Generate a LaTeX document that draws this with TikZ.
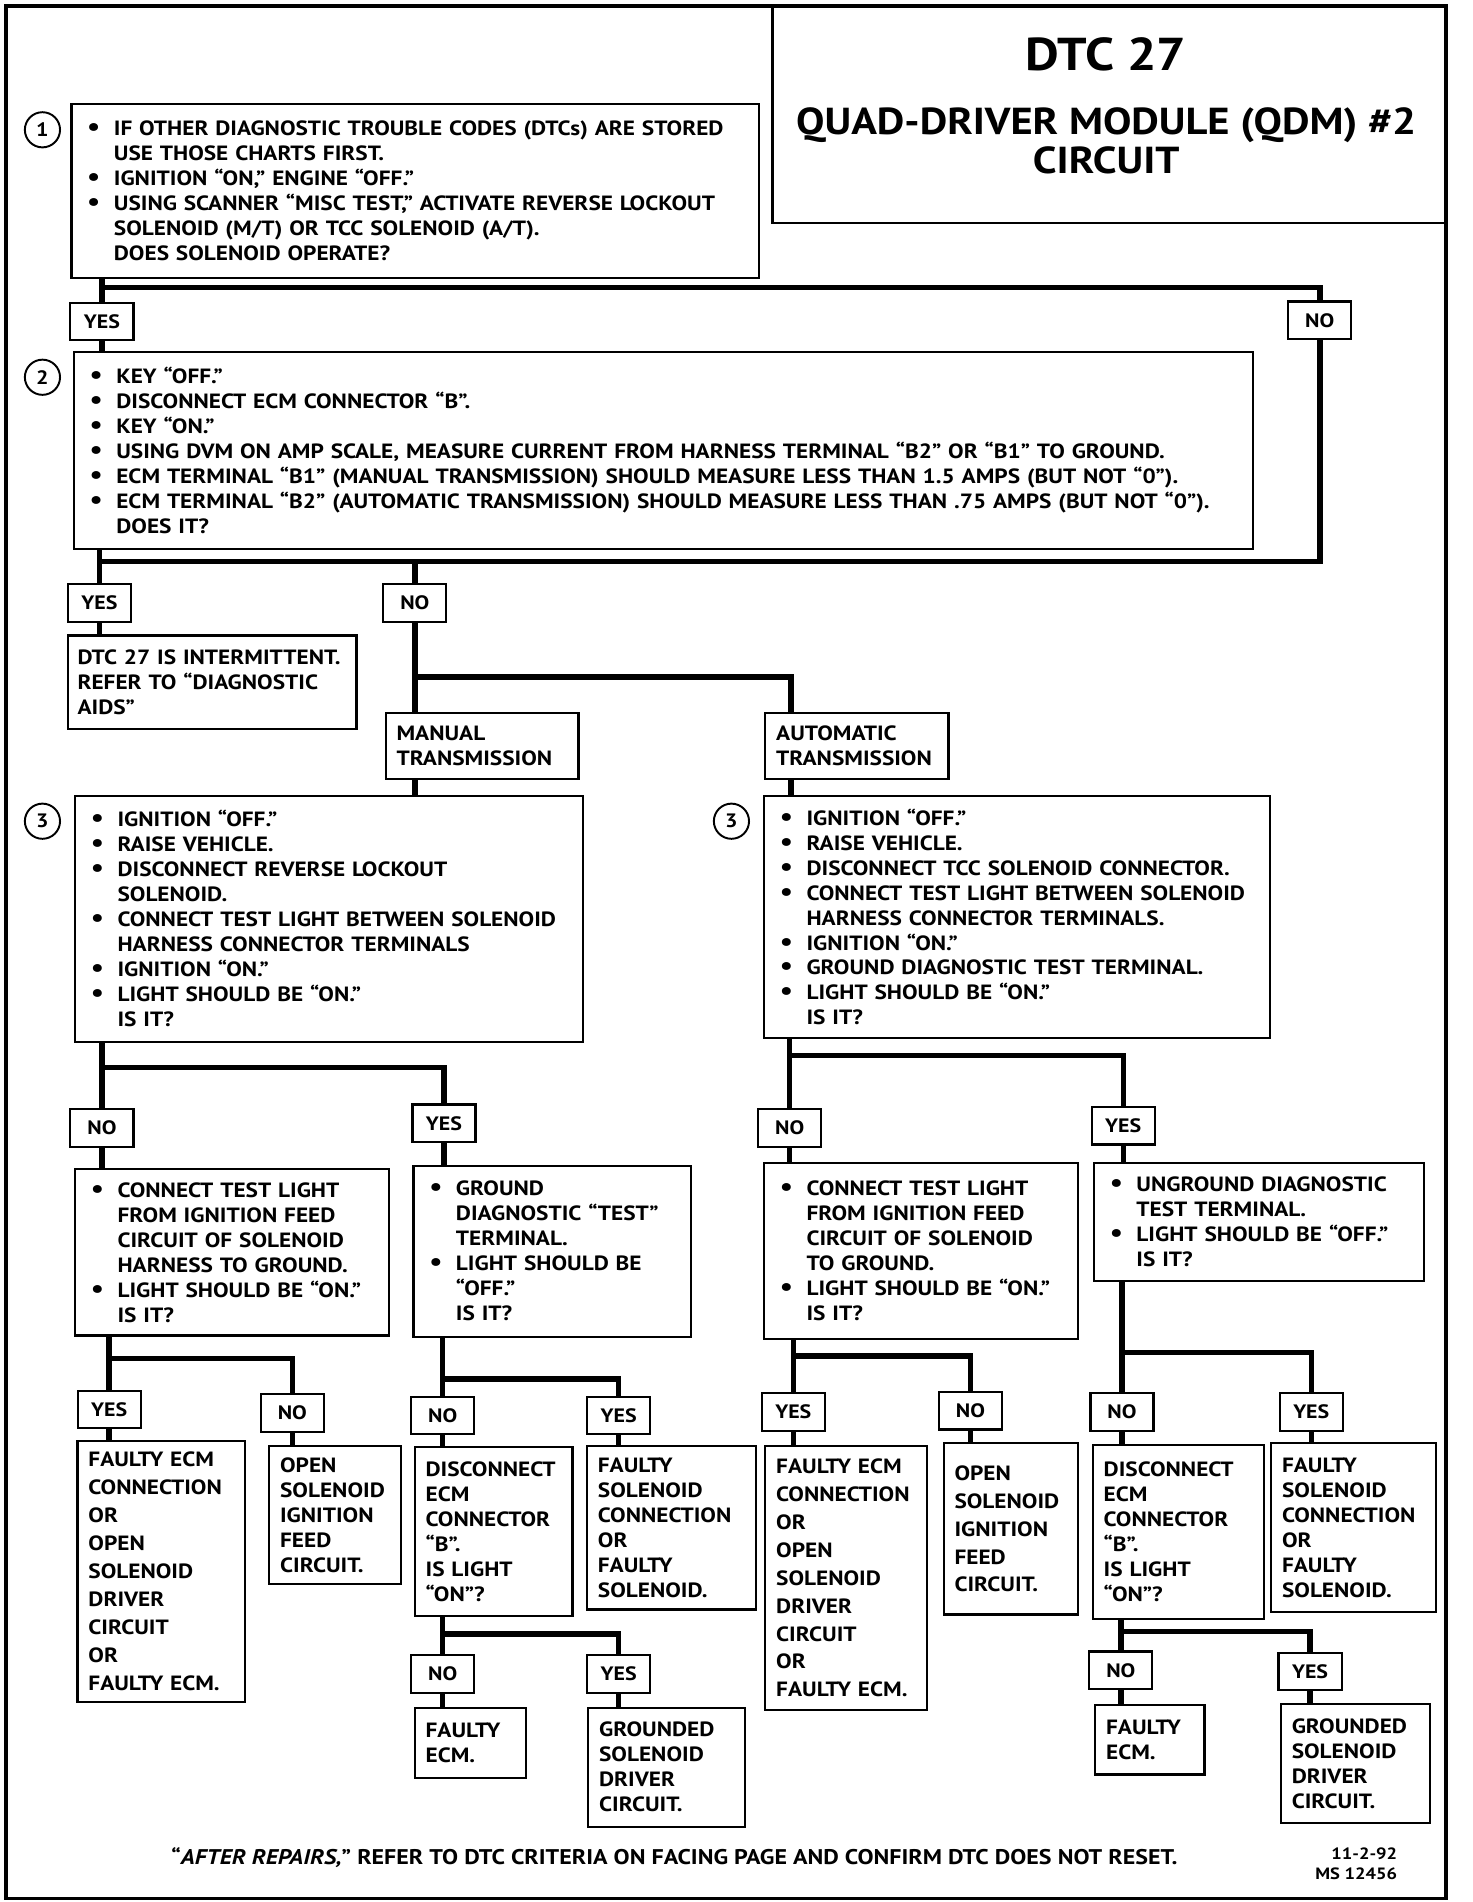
\documentclass[tikz,border=0pt]{standalone}
\usepackage{fontspec}
\setmainfont{PT Sans}[FakeStretch=1.13]
\setlength{\parindent}{0pt}
\hyphenpenalty=10000
\exhyphenpenalty=10000

\newcommand{\itm}{\makebox[22pt][l]{\scalebox{1.25}{\textbullet}}}
\newcommand{\cnt}{\hspace*{22pt}}
\newcommand{\chartfont}{\fontsize{17}{20.6}\selectfont\bfseries}

\tikzset{
  chart/.style={draw, line width=1.8pt, anchor=north west, align=left,
    inner xsep=13pt, inner ysep=3pt, font=\chartfont},
  result/.style={chart, inner xsep=9pt},
  loose/.style={font=\fontsize{17}{23}\selectfont\bfseries},
  yesno/.style={draw, line width=1.8pt, minimum width=52pt, minimum height=31pt,
    inner sep=0pt, font=\fontsize{16}{18}\selectfont\bfseries},
  stepnum/.style={draw, circle, line width=1.6pt, minimum size=29pt,
    inner sep=0pt, font=\fontsize{16}{18}\selectfont\bfseries},
  link/.style={line width=4.5pt},
}

\begin{document}
\begin{tikzpicture}[x=1pt, y=-1pt]
  \useasboundingbox (0,0) rectangle (1214,1568);
  \draw[line width=3pt] (5,5) rectangle (1192,1565);

  % title block
  \node[draw, line width=1.8pt, anchor=north west, minimum width=556pt,
        minimum height=178pt] (title) at (636,5) {};
  \node[align=center, inner sep=0pt, font=\fontsize{31}{32}\selectfont\bfseries]
       (titletxt) at (912,87)
       {{\fontsize{38}{40}\selectfont DTC 27}\\[21pt]QUAD-DRIVER MODULE (QDM) \#2\\CIRCUIT};

  % step 1
  \node[stepnum] (num1) at (35,107) {1};
  \node[chart, text width=541pt, minimum height=143pt] (step1) at (58,85)
    {\itm IF OTHER DIAGNOSTIC TROUBLE CODES (DTCs) ARE STORED\\
     \cnt USE THOSE CHARTS FIRST.\\
     \itm IGNITION “ON,” ENGINE “OFF.”\\
     \itm USING SCANNER “MISC TEST,” ACTIVATE REVERSE LOCKOUT\\
     \cnt SOLENOID (M/T) OR TCC SOLENOID (A/T).\\
     \cnt DOES SOLENOID OPERATE?};
  \node[yesno] (yes1) at (84,265) {YES};
  \node[yesno] (no1)  at (1088,264) {NO};

  % step 2
  \node[stepnum] (num2) at (35,311) {2};
  \node[chart, text width=946pt, minimum height=163pt] (step2) at (60,289)
    {\itm KEY “OFF.”\\
     \itm DISCONNECT ECM CONNECTOR “B”.\\
     \itm KEY “ON.”\\
     \itm USING DVM ON AMP SCALE, MEASURE CURRENT FROM HARNESS TERMINAL “B2” OR “B1”  TO GROUND.\\
     \itm ECM TERMINAL “B1” (MANUAL TRANSMISSION) SHOULD MEASURE LESS THAN 1.5 AMPS (BUT NOT “0”).\\
     \itm ECM TERMINAL “B2” (AUTOMATIC TRANSMISSION) SHOULD MEASURE LESS THAN .75 AMPS (BUT NOT “0”).\\
     \cnt DOES IT?};
  \node[yesno] (yes2) at (82,497) {YES};
  \node[yesno] (no2)  at (342,497) {NO};
  \node[result, inner xsep=8pt, text width=222pt, minimum height=77pt] (intermit) at (55,523)
    {DTC 27 IS INTERMITTENT.\\REFER TO “DIAGNOSTIC\\AIDS”};
  \node[result, text width=141pt, minimum height=54pt] (manual) at (317,587)
    {MANUAL\\TRANSMISSION};
  \node[result, text width=133pt, minimum height=54pt] (auto) at (630,587)
    {AUTOMATIC\\TRANSMISSION};

  % step 3, manual
  \node[stepnum] (num3m) at (35,677) {3};
  \node[chart, text width=393pt, minimum height=203pt] (step3m) at (61,655)
    {\itm IGNITION “OFF.”\\
     \itm RAISE VEHICLE.\\
     \itm DISCONNECT REVERSE LOCKOUT\\
     \cnt SOLENOID.\\
     \itm CONNECT TEST LIGHT BETWEEN SOLENOID\\
     \cnt HARNESS CONNECTOR TERMINALS\\
     \itm IGNITION “ON.”\\
     \itm LIGHT SHOULD BE “ON.”\\
     \cnt IS IT?};
  \node[yesno] (no3m)  at (84,930) {NO};
  \node[yesno] (yes3m) at (366,926) {YES};

  % step 3, automatic
  \node[stepnum] (num3a) at (603,677) {3};
  \node[chart, text width=391pt, minimum height=200pt] (step3a) at (629,655)
    {\itm IGNITION “OFF.”\\
     \itm RAISE VEHICLE.\\
     \itm DISCONNECT TCC SOLENOID CONNECTOR.\\
     \itm CONNECT TEST LIGHT BETWEEN SOLENOID\\
     \cnt HARNESS CONNECTOR TERMINALS.\\
     \itm IGNITION “ON.”\\
     \itm GROUND DIAGNOSTIC TEST TERMINAL.\\
     \itm LIGHT SHOULD BE “ON.”\\
     \cnt IS IT?};
  \node[yesno] (no3a)  at (651,930) {NO};
  \node[yesno] (yes3a) at (926,928) {YES};

  % checks after step 3
  \node[chart, text width=233pt, minimum height=137pt] (chk4a) at (61,963)
    {\itm CONNECT TEST LIGHT\\
     \cnt FROM IGNITION FEED\\
     \cnt CIRCUIT OF SOLENOID\\
     \cnt HARNESS TO GROUND.\\
     \itm LIGHT SHOULD BE “ON.”\\
     \cnt IS IT?};
  \node[chart, text width=203pt, minimum height=141pt] (chk4b) at (340,960)
    {\itm GROUND\\
     \cnt DIAGNOSTIC “TEST”\\
     \cnt TERMINAL.\\
     \itm LIGHT SHOULD BE\\
     \cnt “OFF.”\\
     \cnt IS IT?};
  \node[chart, text width=233pt, minimum height=145pt] (chk4c) at (629,958)
    {\itm CONNECT TEST LIGHT\\
     \cnt FROM IGNITION FEED\\
     \cnt CIRCUIT OF SOLENOID\\
     \cnt TO GROUND.\\
     \itm LIGHT SHOULD BE “ON.”\\
     \cnt IS IT?};
  \node[chart, text width=246pt, minimum height=97pt] (chk4d) at (901,958)
    {\itm UNGROUND DIAGNOSTIC\\
     \cnt TEST TERMINAL.\\
     \itm LIGHT SHOULD BE “OFF.”\\
     \cnt IS IT?};

  \node[yesno] (yes4a) at (90,1162) {YES};
  \node[yesno] (no4a)  at (241,1165) {NO};
  \node[yesno] (no4b)  at (365,1167) {NO};
  \node[yesno] (yes4b) at (510,1167) {YES};
  \node[yesno] (yes4c) at (654,1164) {YES};
  \node[yesno] (no4c)  at (800,1163) {NO};
  \node[yesno] (no4d)  at (925,1164) {NO};
  \node[yesno] (yes4d) at (1081,1164) {YES};

  % results
  \node[result, loose, text width=120pt, minimum height=215pt] (res5a) at (63,1187)
    {FAULTY ECM\\CONNECTION\\OR\\OPEN\\SOLENOID\\DRIVER\\CIRCUIT\\OR\\FAULTY ECM.};
  \node[result, text width=91pt, minimum height=114pt] (res5b) at (221,1191)
    {OPEN\\SOLENOID\\IGNITION\\FEED\\CIRCUIT.};
  \node[result, text width=112pt, minimum height=139pt] (chk5c) at (341,1192)
    {DISCONNECT\\ECM\\CONNECTOR\\“B”.\\IS LIGHT\\“ON”?};
  \node[result, text width=121pt, minimum height=135pt] (res5d) at (483,1191)
    {FAULTY\\SOLENOID\\CONNECTION\\OR\\FAULTY\\SOLENOID.};
  \node[result, loose, text width=115pt, minimum height=218pt] (res5e) at (630,1191)
    {FAULTY ECM\\CONNECTION\\OR\\OPEN\\SOLENOID\\DRIVER\\CIRCUIT\\OR\\FAULTY ECM.};
  \node[result, loose, text width=93pt, minimum height=141pt] (res5f) at (777,1189)
    {OPEN\\SOLENOID\\IGNITION\\FEED\\CIRCUIT.};
  \node[result, text width=123pt, minimum height=144pt] (chk5g) at (900,1190)
    {DISCONNECT\\ECM\\CONNECTOR\\“B”.\\IS LIGHT\\“ON”?};
  \node[result, text width=118pt, minimum height=139pt] (res5h) at (1047,1189)
    {FAULTY\\SOLENOID\\CONNECTION\\OR\\FAULTY\\SOLENOID.};

  \node[yesno] (no5c)  at (365,1380) {NO};
  \node[yesno] (yes5c) at (510,1380) {YES};
  \node[yesno] (no5g)  at (924,1377) {NO};
  \node[yesno] (yes5g) at (1080,1378) {YES};

  \node[result, text width=74pt, minimum height=58pt] (res6a) at (341,1407)
    {FAULTY\\ECM.};
  \node[result, text width=111pt, minimum height=98pt] (res6b) at (484,1407)
    {GROUNDED\\SOLENOID\\DRIVER\\CIRCUIT.};
  \node[result, text width=72pt, minimum height=57pt] (res6c) at (902,1405)
    {FAULTY\\ECM.};
  \node[result, text width=105pt, minimum height=98pt] (res6d) at (1055,1404)
    {GROUNDED\\SOLENOID\\DRIVER\\CIRCUIT.};

  % footer
  \node[font=\fontsize{17.5}{20}\selectfont\bfseries] (repairs) at (556,1531)
    {“\textit{AFTER REPAIRS,}” REFER TO DTC CRITERIA ON FACING PAGE AND CONFIRM DTC DOES NOT RESET.};
  \node[anchor=north east, align=right, inner sep=0pt,
        font=\fontsize{13.5}{17}\selectfont\bfseries] (msno) at (1152,1523)
    {11-2-92\\MS 12456};

  % connectors
  \coordinate (bus1) at (84,237);
  \draw[link] (bus1 |- step1.south) -- (yes1.north);
  \draw[link] (bus1) -| (no1.north);
  \coordinate (bus2) at (82,463);
  \draw[link] (bus2 |- step2.south) -- (yes2.north);
  \draw[link] (no1.south) |- (bus2);
  \draw[link] (bus2 -| no2.north) -- (no2.north);
  \draw[link] (no2.south) -- (no2.south |- manual.north);
  \coordinate (bus3) at (342,558);
  \coordinate (bus3r) at (652,558);
  \draw[link] (bus3) -- (bus3r) -- (bus3r |- auto.north);
  \draw[link] (bus3 |- manual.south) -- (bus3 |- step3m.north);
  \draw[link] (bus3r |- auto.south) -- (bus3r |- step3a.north);

  \coordinate (bus4m) at (84,880);
  \draw[link] (bus4m |- step3m.south) -- (no3m.north);
  \draw[link] (bus4m) -| (yes3m.north);
  \coordinate (bus4r) at (651,870);
  \draw[link] (bus4r |- step3a.south) -- (no3a.north);
  \draw[link] (bus4r) -| (yes3a.north);

  \coordinate (bus5a) at (90,1120);
  \draw[link] (bus5a |- chk4a.south) -- (yes4a.north);
  \draw[link] (bus5a) -| (no4a.north);
  \coordinate (bus5b) at (365,1137);
  \draw[link] (bus5b |- chk4b.south) -- (no4b.north);
  \draw[link] (bus5b) -| (yes4b.north);
  \coordinate (bus5c) at (654,1118);
  \draw[link] (bus5c |- chk4c.south) -- (yes4c.north);
  \draw[link] (bus5c) -| (no4c.north);
  \coordinate (bus5d) at (925,1115);
  \draw[link] (bus5d |- chk4d.south) -- (no4d.north);
  \draw[link] (bus5d) -| (yes4d.north);

  \coordinate (bus6a) at (365,1347);
  \draw[link] (bus6a |- chk5c.south) -- (no5c.north);
  \draw[link] (bus6a) -| (yes5c.north);
  \coordinate (bus6b) at (924,1345);
  \draw[link] (bus6b |- chk5g.south) -- (no5g.north);
  \draw[link] (bus6b) -| (yes5g.north);

  \foreach \lab/\res in {yes1/step2, yes2/intermit, no3m/chk4a, yes3m/chk4b,
      no3a/chk4c, yes3a/chk4d, yes4a/res5a, no4a/res5b, no4b/chk5c, yes4b/res5d,
      yes4c/res5e, no4c/res5f, no4d/chk5g, yes4d/res5h, no5c/res6a, yes5c/res6b,
      no5g/res6c, yes5g/res6d}
    \draw[link] (\lab.south) -- (\lab.south |- \res.north);
\end{tikzpicture}
\end{document}
